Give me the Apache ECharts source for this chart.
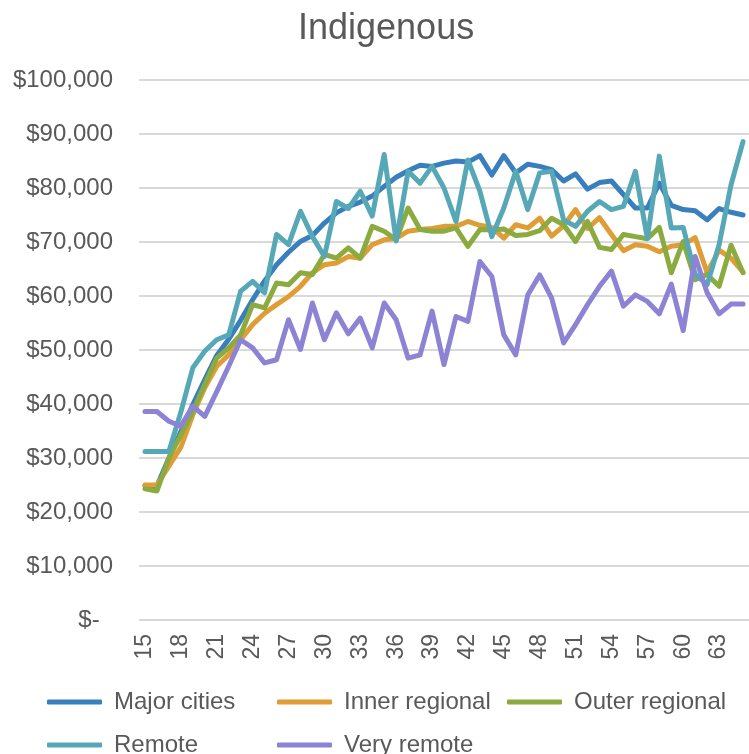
<!DOCTYPE html>
<html>
<head>
<meta charset="utf-8">
<script src="https://cdn.jsdelivr.net/npm/echarts/dist/echarts.min.js"></script>
<style>
  html, body { margin: 0; padding: 0; background: #fff; }
  #chart { width: 749px; height: 754px; }
</style>
</head>
<body>
<div id="chart"></div>
<script>
// ages 15..65
var ages = ['15','16','17','18','19','20','21','22','23','24','25','26','27','28','29','30',
  '31','32','33','34','35','36','37','38','39','40','41','42','43','44','45','46','47','48',
  '49','50','51','52','53','54','55','56','57','58','59','60','61','62','63','64','65'];

var majorCities = [24800, 24800, 30000, 34900, 39900, 44500, 49000, 52000, 55500, 59300,
  62800, 65800, 68100, 70100, 71200, 73500, 75400, 76600, 77400, 78500,
  80300, 82000, 83200, 84200, 84000, 84600, 85000, 84800, 86000, 82400,
  86000, 82800, 84400, 84000, 83400, 81300, 82600, 79800, 81000, 81300,
  78800, 76300, 76300, 80900, 76800, 76000, 75800, 74100, 76200, 75500, 75000];

var innerRegional = [25000, 25000, 28500, 32000, 38000, 43000, 47000, 49100, 51900, 54700,
  56800, 58400, 59900, 61800, 64300, 65800, 66100, 67300, 67000, 69500,
  70400, 70700, 72000, 72300, 72500, 72900, 72900, 73800, 73100, 72700,
  70700, 73200, 72600, 74400, 71100, 73000, 76000, 72500, 74500, 71400,
  68400, 69500, 69200, 68200, 69200, 69500, 70800, 64300, 68500, 67000, 64400];

var outerRegional = [24300, 23900, 30000, 34300, 38600, 43600, 48500, 50400, 52800, 58400,
  57800, 62400, 62100, 64300, 64000, 67700, 67000, 68900, 67000, 72900,
  72000, 70400, 76300, 72300, 72000, 72000, 72600, 69200, 72300, 72200,
  72400, 71200, 71400, 72100, 74400, 73200, 70100, 73800, 69000, 68600,
  71400, 71000, 70600, 72700, 64300, 70100, 63000, 64000, 61800, 69400, 64300];

var remote = [31200, 31200, 31200, 38500, 46700, 49800, 51900, 52800, 60900, 62700,
  60600, 71400, 69500, 75700, 71000, 67300, 77500, 76200, 79400, 74800,
  86200, 70200, 83100, 80900, 84000, 80000, 73800, 85200, 79400, 71000,
  76300, 83100, 76000, 82800, 83100, 74100, 72900, 75700, 77500, 76000,
  76600, 83100, 70700, 85900, 72600, 72700, 64000, 62100, 69500, 80600, 88600];

var veryRemote = [38600, 38600, 36800, 35900, 39600, 37700, 42300, 47000, 51900, 50400,
  47600, 48200, 55600, 50100, 58700, 51900, 56900, 53000, 55900, 50400,
  58700, 55600, 48500, 49100, 57200, 47300, 56200, 55300, 66400, 63600,
  52800, 49100, 60200, 63900, 59600, 51300, 54700, 58400, 61800, 64600,
  58100, 60200, 59000, 56700, 62200, 53600, 67300, 60600, 56700, 58500, 58500];

var seriesNames = ['Major cities', 'Inner regional', 'Outer regional', 'Remote', 'Very remote'];
var seriesData = [majorCities, innerRegional, outerRegional, remote, veryRemote];
var colors = ['#3A7FBD', '#DE9E35', '#8BAA40', '#57A8B7', '#8C83D5'];

var textColor = '#595959';
var fontFam = "'Liberation Sans', Arial, sans-serif";

var chart = echarts.init(document.getElementById('chart'));

var option = {
  animation: false,
  color: colors,
  textStyle: { fontFamily: fontFam },
  title: {
    text: 'Indigenous',
    left: 293,
    top: 6,
    textStyle: { fontSize: 36, fontWeight: 'normal', color: textColor, fontFamily: fontFam }
  },
  legend: {
    data: seriesNames,
    left: 42,
    top: 682,
    width: 707,
    icon: 'roundRect',
    itemWidth: 55,
    itemHeight: 5,
    itemGap: 13,
    textStyle: { fontSize: 24, color: textColor, width: 150, lineHeight: 30, padding: [0, 0, 0, 7] }
  },
  grid: { left: 139, top: 80, width: 612, height: 540 },
  xAxis: {
    type: 'category',
    data: ages,
    boundaryGap: true,
    axisLine: { show: false },
    axisTick: { show: false },
    axisLabel: { rotate: 90, interval: 2, fontSize: 23, color: textColor, margin: 14 }
  },
  yAxis: {
    type: 'value',
    min: 0,
    max: 100000,
    interval: 10000,
    axisLine: { show: false },
    axisTick: { show: false },
    splitLine: { lineStyle: { color: '#D9D9D9', width: 2 } },
    axisLabel: {
      fontSize: 24,
      color: textColor,
      margin: 26,
      formatter: function (v) {
        return v === 0 ? '$-  ' : '$' + v.toLocaleString('en-US');
      }
    }
  },
  series: seriesNames.map(function (name, k) {
    return {
      name: name,
      type: 'line',
      data: seriesData[k],
      symbol: 'none',
      lineStyle: { width: 5, cap: 'round', join: 'round' }
    };
  })
};

chart.setOption(option);
</script>
</body>
</html>
